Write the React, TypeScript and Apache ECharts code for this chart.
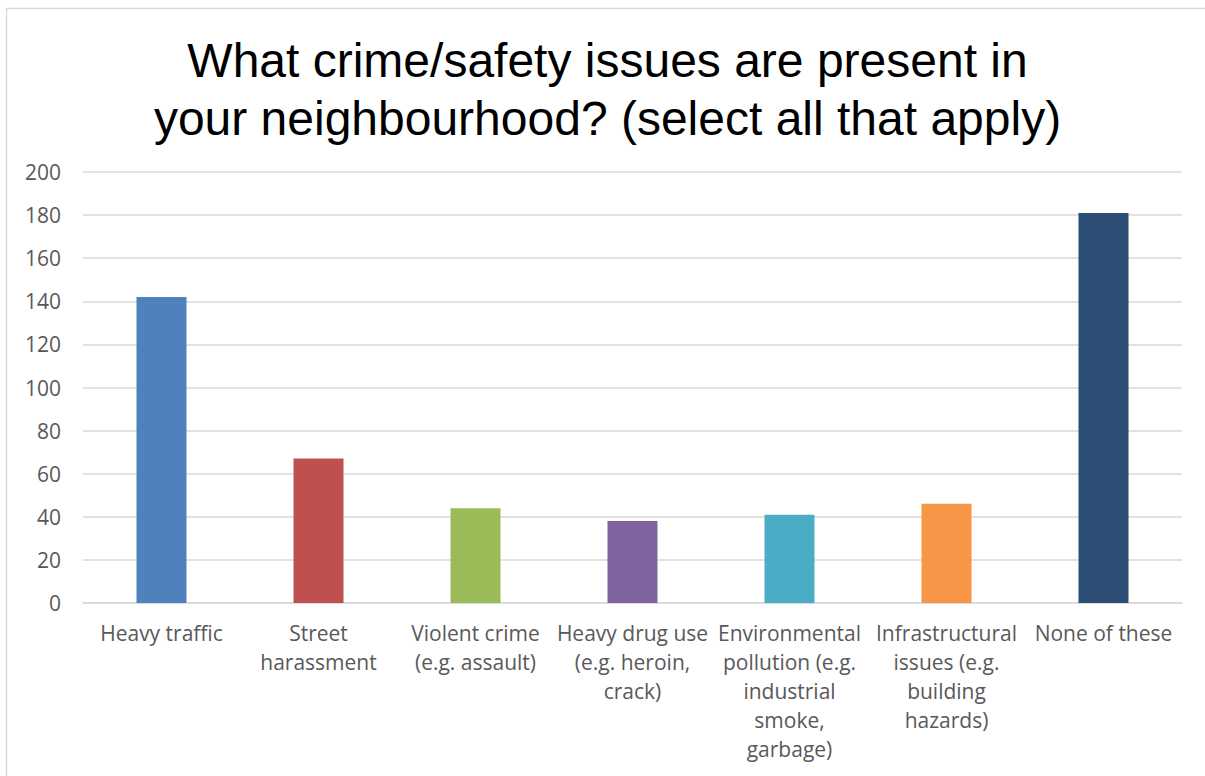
import React, { useEffect, useRef } from "react";
import * as echarts from "echarts";

const titleText = "What crime/safety issues are present in\nyour neighbourhood? (select all that apply)";
const categories = [
  "Heavy traffic",
  "Street\nharassment",
  "Violent crime\n(e.g. assault)",
  "Heavy drug use\n(e.g. heroin,\ncrack)",
  "Environmental\npollution (e.g.\nindustrial\nsmoke,\ngarbage)",
  "Infrastructural\nissues (e.g.\nbuilding\nhazards)",
  "None of these",
];
const values = [142, 67, 44, 38, 41, 46, 181];
const barColors = ["#4f81bd", "#c0504d", "#9bbb59", "#8064a2", "#4bacc6", "#f79646", "#2c4d75"];

export default function App() {
  const ref = useRef<HTMLDivElement>(null);
  useEffect(() => {
    if (!ref.current) return;
    const chart = echarts.init(ref.current, undefined, { renderer: "svg" });
    chart.setOption({
      animation: false,
      backgroundColor: "#ffffff",
      graphic: [
        {
          type: "rect",
          shape: { x: 6.5, y: 8.5, width: 2000, height: 2000 },
          style: { fill: "none", stroke: "#d9d9d9", lineWidth: 1.5 },
          silent: true,
          z: 100,
        },
        {
          type: "text",
          x: 607.5,
          y: 89,
          style: {
            text: titleText,
            textAlign: "center",
            textVerticalAlign: "middle",
            fontFamily: "Liberation Sans",
            fontSize: 48,
            fontWeight: "normal",
            fill: "#000000",
            lineHeight: 58,
          },
        },
      ],
      grid: { left: 83, right: 23, top: 172, bottom: 173 },
      xAxis: {
        type: "category",
        data: categories,
        axisTick: { show: false },
        axisLine: { lineStyle: { color: "#d9d9d9", width: 1.5 } },
        axisLabel: {
          interval: 0,
          color: "#595959",
          fontFamily: "Open Sans",
          fontSize: 21,
          lineHeight: 29,
          margin: 15,
          verticalAlign: "top",
        },
      },
      yAxis: {
        type: "value",
        min: 0,
        max: 200,
        interval: 20,
        axisLine: { show: false },
        axisTick: { show: false },
        splitLine: { lineStyle: { color: "#d9d9d9", width: 1.5 } },
        axisLabel: {
          color: "#595959",
          fontFamily: "Open Sans",
          fontSize: 21,
          margin: 22,
        },
      },
      series: [
        {
          type: "bar",
          barWidth: 50,
          data: values.map((v, i) => ({ value: v, itemStyle: { color: barColors[i] } })),
        },
      ],
    });
    return () => chart.dispose();
  }, []);
  return (
    <div
      ref={ref}
      style={{ position: "absolute", left: 0, top: 0, width: 1205, height: 776 }}
    />
  );
}
